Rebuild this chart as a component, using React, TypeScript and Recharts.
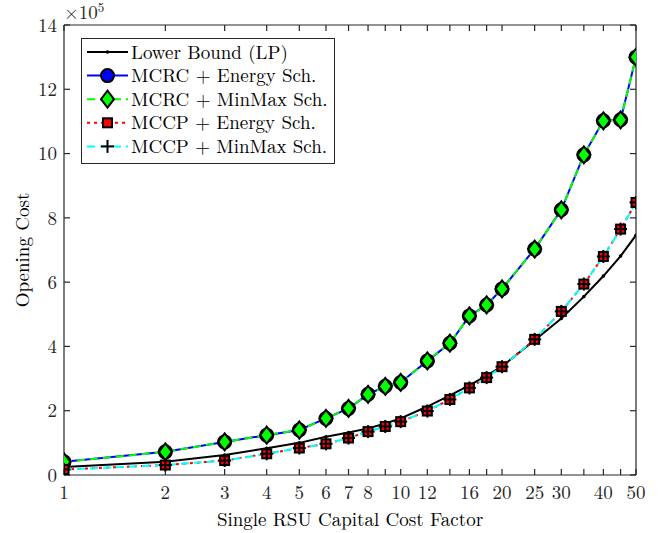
import { LineChart, Line, XAxis, YAxis, Legend, Label } from "recharts";

const xs = [1, 2, 3, 4, 5, 6, 7, 8, 9, 10, 12, 14, 16, 18, 20, 25, 30, 35, 40, 45, 50];
const labeledX = [1, 2, 3, 4, 5, 6, 7, 8, 10, 12, 16, 20, 25, 30, 40, 50];
const yTicks = [0, 2, 4, 6, 8, 10, 12, 14];

// opening cost, in units of 1e5
const lowerBound = [0.25, 0.41, 0.62, 0.83, 1.0, 1.19, 1.32, 1.45, 1.6, 1.76, 2.13, 2.48, 2.79, 3.09, 3.38, 4.19, 4.87, 5.55, 6.19, 6.81, 7.46];
const mcrcEnergy = [0.41, 0.72, 1.03, 1.24, 1.4, 1.76, 2.07, 2.51, 2.76, 2.88, 3.55, 4.1, 4.95, 5.29, 5.79, 7.03, 8.25, 9.96, 11.02, 11.05, 13.0];
const mcrcMinMax = [0.41, 0.72, 1.03, 1.24, 1.4, 1.76, 2.07, 2.51, 2.76, 2.88, 3.55, 4.1, 4.95, 5.29, 5.79, 7.03, 8.25, 9.96, 11.02, 11.05, 13.0];
const mccpEnergy = [0.17, 0.31, 0.45, 0.66, 0.84, 0.97, 1.15, 1.35, 1.51, 1.66, 1.99, 2.35, 2.71, 3.03, 3.37, 4.22, 5.09, 5.94, 6.8, 7.65, 8.48];
const mccpMinMax = [0.17, 0.31, 0.45, 0.66, 0.84, 0.97, 1.15, 1.35, 1.51, 1.66, 1.99, 2.35, 2.71, 3.03, 3.37, 4.22, 5.09, 5.94, 6.8, 7.65, 8.48];

const data = xs.map((x, i) => ({
  x,
  lb: lowerBound[i],
  rcE: mcrcEnergy[i],
  rcM: mcrcMinMax[i],
  cpE: mccpEnergy[i],
  cpM: mccpMinMax[i],
}));

const FONT = "Latin Modern Roman";
const FS = 19;
const AXIS = "#262626";

type Marker = "dot" | "circle" | "diamond" | "square" | "plus";

function MarkerShape({ kind, cx, cy, fill }: { kind: Marker; cx: number; cy: number; fill: string }) {
  if (kind === "dot") return <circle cx={cx} cy={cy} r={1.8} fill="#000" />;
  if (kind === "circle")
    return <circle cx={cx} cy={cy} r={6.5} fill={fill} stroke="#000" strokeWidth={2} />;
  if (kind === "diamond")
    return (
      <polygon
        points={`${cx},${cy - 8.5} ${cx + 6.5},${cy} ${cx},${cy + 8.5} ${cx - 6.5},${cy}`}
        fill={fill}
        stroke="#000"
        strokeWidth={2}
      />
    );
  if (kind === "square")
    return <rect x={cx - 4.5} y={cy - 4.5} width={9} height={9} fill={fill} stroke="#000" strokeWidth={2} />;
  return (
    <g stroke="#000" strokeWidth={2}>
      <line x1={cx - 6.5} y1={cy} x2={cx + 6.5} y2={cy} />
      <line x1={cx} y1={cy - 6.5} x2={cx} y2={cy + 6.5} />
    </g>
  );
}

const series = [
  { key: "lb", name: "Lower Bound (LP)", color: "#000000", dash: undefined, marker: "dot" as Marker, fill: "#000" },
  { key: "rcE", name: "MCRC + Energy Sch.", color: "#0000ff", dash: undefined, marker: "circle" as Marker, fill: "#0000ff" },
  { key: "rcM", name: "MCRC + MinMax Sch.", color: "#00ff00", dash: "8 5", marker: "diamond" as Marker, fill: "#00ff00" },
  { key: "cpE", name: "MCCP + Energy Sch.", color: "#ff0000", dash: "3 4", marker: "square" as Marker, fill: "#ff0000" },
  { key: "cpM", name: "MCCP + MinMax Sch.", color: "#00ffff", dash: "8 5", marker: "plus" as Marker, fill: "#000" },
];

function LegendBox() {
  const rowH = 23.6;
  return (
    <svg width={254} height={126} style={{ display: "block" }}>
      <rect x={0.5} y={0.5} width={253} height={125} fill="#fff" stroke={AXIS} strokeWidth={1} />
      {series.map((s, i) => {
        const cy = 14 + i * rowH;
        return (
          <g key={s.key}>
            <line x1={6} y1={cy} x2={47} y2={cy} stroke={s.color} strokeWidth={2} strokeDasharray={s.dash} />
            <MarkerShape kind={s.marker} cx={26.5} cy={cy} fill={s.fill} />
            <text x={50} y={cy + 6.5} fontFamily={FONT} fontSize={FS} fill="#000">
              {s.name}
            </text>
          </g>
        );
      })}
    </svg>
  );
}

export default function App() {
  return (
    <div style={{ position: "absolute", left: 0, top: 0 }}>
      <LineChart width={660} height={533} data={data} margin={{ top: 25, right: 24, left: 0, bottom: 0 }}>
        <XAxis
          dataKey="x"
          type="number"
          scale="log"
          domain={[1, 50]}
          allowDataOverflow
          ticks={xs}
          interval={0}
          tickFormatter={(v: number) => (labeledX.includes(v) ? String(v) : "")}
          tickSize={-6}
          tickMargin={17}
          height={58}
          stroke={AXIS}
          strokeWidth={1.2}
          tick={{ fill: AXIS, fontSize: FS, fontFamily: FONT }}
        >
          <Label value="Single RSU Capital Cost Factor" position="center" dy={15} fill="#000" fontSize={FS} fontFamily={FONT} />
        </XAxis>
        <YAxis
          type="number"
          domain={[0, 14]}
          allowDataOverflow
          ticks={yTicks}
          interval={0}
          tickSize={-6}
          tickMargin={13}
          width={64}
          stroke={AXIS}
          strokeWidth={1.2}
          tick={{ fill: AXIS, fontSize: FS, fontFamily: FONT }}
        >
          <Label value="Opening Cost" position="center" angle={-90} dx={-10} fill="#000" fontSize={FS} fontFamily={FONT} />
        </YAxis>
        <XAxis
          xAxisId="top"
          orientation="top"
          mirror
          dataKey="x"
          type="number"
          scale="log"
          domain={[1, 50]}
          allowDataOverflow
          ticks={xs}
          interval={0}
          tickFormatter={() => ""}
          tickSize={6}
          height={20}
          stroke={AXIS}
          strokeWidth={1.2}
        />
        <YAxis
          yAxisId="right"
          orientation="right"
          mirror
          type="number"
          domain={[0, 14]}
          allowDataOverflow
          ticks={yTicks}
          interval={0}
          tickFormatter={() => ""}
          tickSize={6}
          width={20}
          stroke={AXIS}
          strokeWidth={1.2}
        />
        <Line
          xAxisId="top"
          yAxisId="right"
          dataKey="lb"
          stroke="none"
          dot={false}
          activeDot={false}
          legendType="none"
          isAnimationActive={false}
        />
        {series.map((s) => (
          <Line
            key={s.key}
            type="linear"
            dataKey={s.key}
            name={s.name}
            stroke={s.color}
            strokeWidth={2}
            strokeDasharray={s.dash}
            dot={(p: any) => <MarkerShape key={`${s.key}-${p.index}`} kind={s.marker} cx={p.cx} cy={p.cy} fill={s.fill} />}
            activeDot={false}
            isAnimationActive={false}
          />
        ))}
        <Legend
          layout="vertical"
          align="center"
          verticalAlign="middle"
          wrapperStyle={{ top: 38, left: 81, width: 254 }}
          content={() => <LegendBox />}
        />
      </LineChart>
      <svg width={70} height={30} style={{ position: "absolute", left: 62, top: 0, overflow: "visible" }}>
        <text x={2} y={19} fontFamily={FONT} fontSize={FS} fill={AXIS}>
          ×10
          <tspan dy={-7} fontSize={13}>
            5
          </tspan>
        </text>
      </svg>
    </div>
  );
}
